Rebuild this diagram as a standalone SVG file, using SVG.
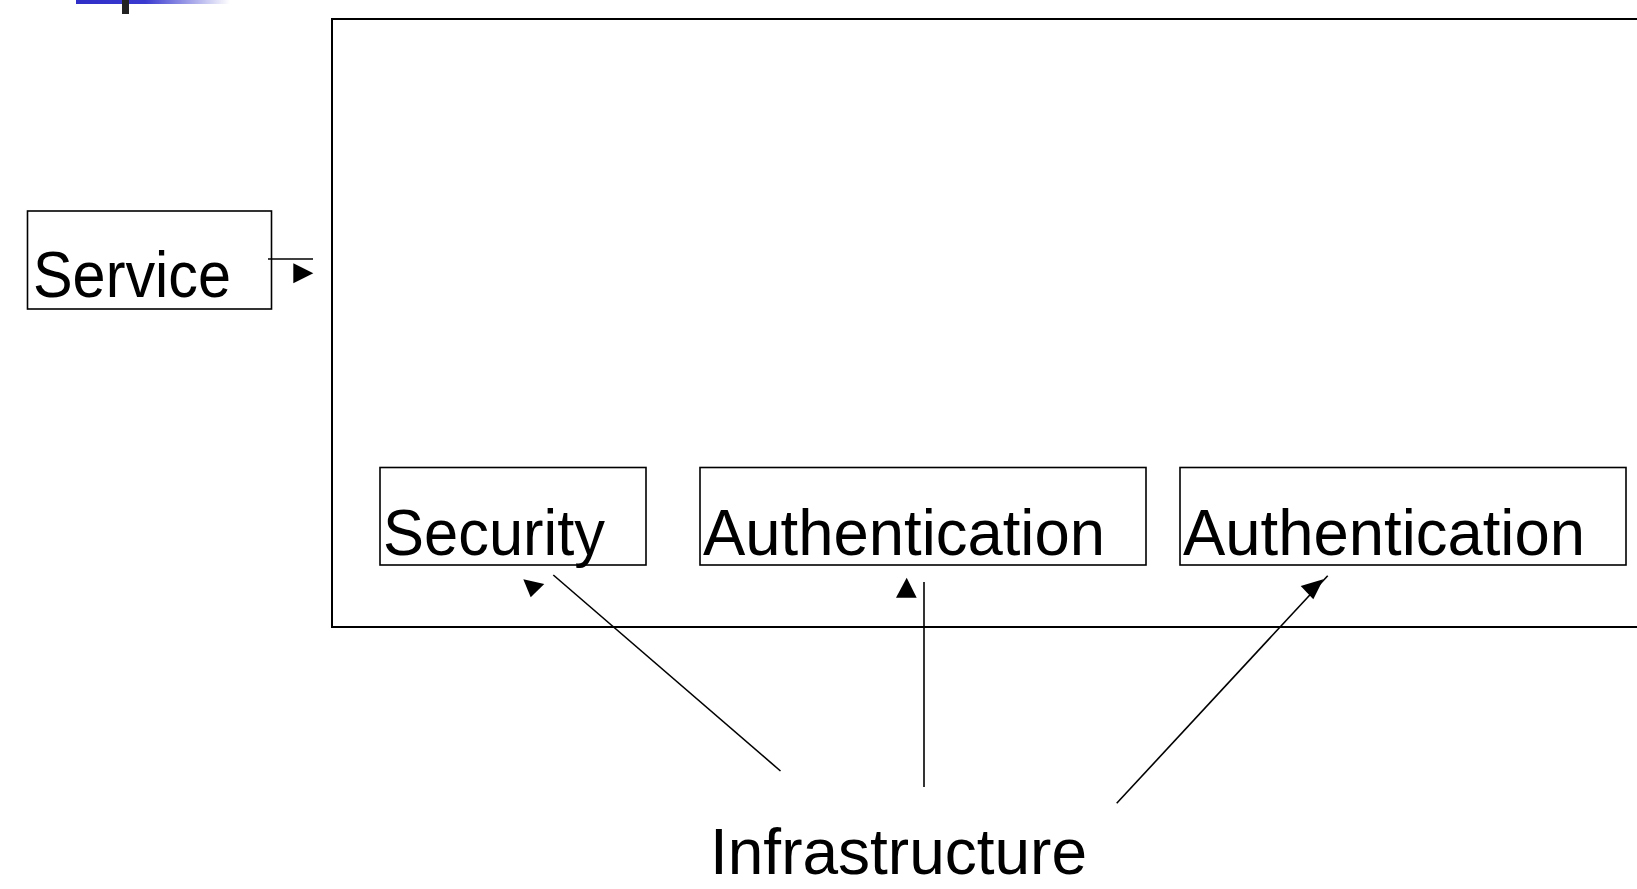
<svg xmlns="http://www.w3.org/2000/svg" width="1637" height="889" viewBox="0 0 1637 889">
<defs>
<linearGradient id="bar" x1="0" y1="0" x2="1" y2="0">
<stop offset="0" stop-color="#2f2fc8"/>
<stop offset="0.45" stop-color="#3a3ad0"/>
<stop offset="1" stop-color="#ffffff"/>
</linearGradient>
<style>
.box{fill:none;stroke:#000;stroke-width:1.6}
.frame{fill:none;stroke:#000;stroke-width:2}
.ln{fill:none;stroke:#000;stroke-width:1.6}
.head{fill:#000;stroke:none}
.lbl{font-family:"Liberation Sans",Arial,sans-serif;font-size:64px;fill:#000}
</style>
</defs>
<rect width="1637" height="889" fill="#fff"/>
<rect x="76" y="0" width="154" height="4" fill="url(#bar)"/>
<rect x="122" y="0" width="7" height="14" fill="#222"/>
<g id="container">
<path class="frame" d="M1640,19 H332 V627 H1640"/>
</g>
<g id="service">
<rect class="box" x="27.5" y="211" width="244" height="98"/>
<text class="lbl" x="33" y="297" textLength="198" lengthAdjust="spacingAndGlyphs">Service</text>
</g>
<g id="security">
<rect class="box" x="380" y="467.5" width="266" height="97.5"/>
<text class="lbl" x="383" y="555" textLength="222" lengthAdjust="spacingAndGlyphs">Security</text>
</g>
<g id="auth1">
<rect class="box" x="700" y="467.5" width="446" height="97.5"/>
<text class="lbl" x="703" y="555" textLength="402" lengthAdjust="spacingAndGlyphs">Authentication</text>
</g>
<g id="auth2">
<rect class="box" x="1180" y="467.5" width="446" height="97.5"/>
<text class="lbl" x="1183" y="555" textLength="402" lengthAdjust="spacingAndGlyphs">Authentication</text>
</g>
<g id="infrastructure">
<text class="lbl" x="710" y="874" textLength="377" lengthAdjust="spacingAndGlyphs">Infrastructure</text>
</g>
<g id="connectors">
<line class="ln" x1="268" y1="259" x2="313" y2="259"/>
<polygon class="head" points="293.3,263.3 313.3,273.3 293.3,283.3"/>
<line class="ln" x1="553.3" y1="575" x2="780.5" y2="771"/>
<polygon class="head" points="523.3,579.3 544.3,584 530.7,597.3"/>
<line class="ln" x1="924" y1="582" x2="924" y2="787"/>
<polygon class="head" points="906.7,577.7 896,597.7 916.7,597.7"/>
<line class="ln" x1="1116.7" y1="803.3" x2="1327.7" y2="575.7"/>
<polygon class="head" points="1323.3,579.3 1300.7,586 1313.3,599.3"/>
</g>
</svg>
